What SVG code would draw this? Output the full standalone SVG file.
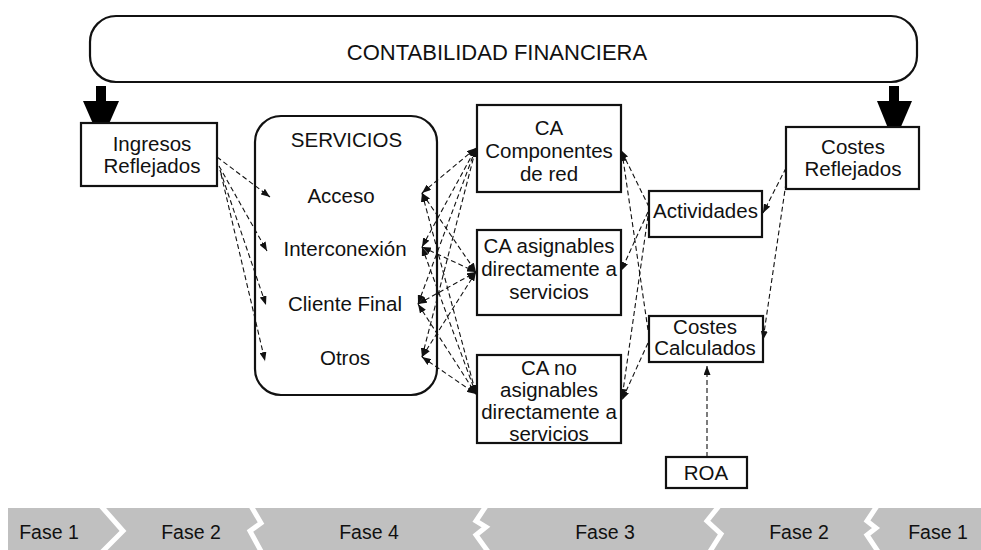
<svg xmlns="http://www.w3.org/2000/svg" width="981" height="550" viewBox="0 0 981 550">
<style>
text{font-family:"Liberation Sans",Arial,Helvetica,sans-serif;fill:#111;text-anchor:middle}
.t{font-size:20.5px}
.box{fill:#fff;stroke:#111;stroke-width:2.2}
.dash{fill:none;stroke:#111;stroke-width:1.1;stroke-dasharray:5,3}
.sep{fill:none;stroke:#fff;stroke-width:5;stroke-linejoin:miter}
.ph{font-size:19.5px}
</style>
<defs>
<marker id="ah" viewBox="0 0 9 7" refX="9" refY="3.5" markerWidth="9" markerHeight="7" markerUnits="userSpaceOnUse" orient="auto-start-reverse">
<path d="M0,0 L9,3.5 L0,7 z" fill="#111"/>
</marker>
</defs>

<g id="contabilidad">
<rect class="box" x="90" y="16" width="827" height="66" rx="26"/>
<text x="497" y="60" style="font-size:22px">CONTABILIDAD FINANCIERA</text>
</g>

<g id="big-arrows" fill="#000">
<rect x="96" y="86" width="10" height="16"/>
<polygon points="83,101 119,101 101,142"/>
<rect x="889" y="86" width="10" height="16"/>
<polygon points="877,101 912,101 894,143"/>
</g>

<g id="ingresos">
<rect class="box" x="81" y="123" width="136" height="63"/>
<text class="t" x="152" y="151">Ingresos</text>
<text class="t" x="152" y="173">Reflejados</text>
</g>

<g id="servicios">
<rect class="box" x="255" y="116" width="182" height="279" rx="26"/>
<text class="t" x="346.500" y="147">SERVICIOS</text>
<text class="t" x="341" y="203">Acceso</text>
<text class="t" x="345" y="256">Interconexión</text>
<text class="t" x="345" y="311">Cliente Final</text>
<text class="t" x="345" y="365">Otros</text>
</g>

<g id="ca-componentes">
<rect class="box" x="477" y="105" width="144" height="87"/>
<text class="t" x="549" y="135">CA</text>
<text class="t" x="549" y="158">Componentes</text>
<text class="t" x="549" y="181">de red</text>
</g>

<g id="ca-asignables">
<rect class="box" x="477" y="230" width="144" height="85"/>
<text class="t" x="549" y="253">CA asignables</text>
<text class="t" x="549" y="276">directamente a</text>
<text class="t" x="549" y="299">servicios</text>
</g>

<g id="ca-no-asignables">
<rect class="box" x="477" y="355" width="144" height="88"/>
<text class="t" x="549" y="375">CA no</text>
<text class="t" x="549" y="397">asignables</text>
<text class="t" x="549" y="419">directamente a</text>
<text class="t" x="549" y="441">servicios</text>
</g>

<g id="actividades">
<rect class="box" x="649" y="191" width="113" height="46"/>
<text class="t" x="705.500" y="218">Actividades</text>
</g>

<g id="costes-reflejados">
<rect class="box" x="786" y="127" width="133" height="62"/>
<text class="t" x="853" y="154">Costes</text>
<text class="t" x="853" y="176">Reflejados</text>
</g>

<g id="costes-calculados">
<rect class="box" x="649" y="316" width="114" height="46"/>
<text class="t" x="705" y="334">Costes</text>
<text class="t" x="705" y="355">Calculados</text>
</g>

<g id="roa">
<rect class="box" x="666" y="457" width="81" height="31"/>
<text class="t" x="706" y="480">ROA</text>
</g>

<g id="connectors">
<!-- Ingresos -> Servicios -->
<line class="dash" x1="217" y1="157" x2="270" y2="197" marker-end="url(#ah)"/>
<line class="dash" x1="219" y1="166" x2="267" y2="251" marker-end="url(#ah)"/>
<line class="dash" x1="220" y1="170" x2="266" y2="305" marker-end="url(#ah)"/>
<line class="dash" x1="221" y1="174" x2="265" y2="361" marker-end="url(#ah)"/>
<!-- Servicios <-> CA -->
<line class="dash" x1="422" y1="193" x2="476" y2="148" marker-start="url(#ah)" marker-end="url(#ah)"/>
<line class="dash" x1="422" y1="193" x2="476" y2="272" marker-start="url(#ah)" marker-end="url(#ah)"/>
<line class="dash" x1="422" y1="193" x2="476" y2="394" marker-start="url(#ah)" marker-end="url(#ah)"/>
<line class="dash" x1="422" y1="247" x2="476" y2="148" marker-start="url(#ah)" marker-end="url(#ah)"/>
<line class="dash" x1="422" y1="247" x2="476" y2="272" marker-start="url(#ah)" marker-end="url(#ah)"/>
<line class="dash" x1="422" y1="247" x2="476" y2="394" marker-start="url(#ah)" marker-end="url(#ah)"/>
<line class="dash" x1="418" y1="304" x2="476" y2="148" marker-start="url(#ah)" marker-end="url(#ah)"/>
<line class="dash" x1="418" y1="304" x2="476" y2="272" marker-start="url(#ah)" marker-end="url(#ah)"/>
<line class="dash" x1="418" y1="304" x2="476" y2="394" marker-start="url(#ah)" marker-end="url(#ah)"/>
<line class="dash" x1="422" y1="357" x2="476" y2="148" marker-start="url(#ah)" marker-end="url(#ah)"/>
<line class="dash" x1="422" y1="357" x2="476" y2="272" marker-start="url(#ah)" marker-end="url(#ah)"/>
<line class="dash" x1="422" y1="357" x2="476" y2="394" marker-start="url(#ah)" marker-end="url(#ah)"/>
<!-- Actividades / Costes Calculados -> CA -->
<line class="dash" x1="649" y1="207" x2="621" y2="150" marker-end="url(#ah)"/>
<line class="dash" x1="648" y1="212" x2="621" y2="271" marker-end="url(#ah)"/>
<line class="dash" x1="648" y1="216" x2="622" y2="398" marker-end="url(#ah)"/>
<line class="dash" x1="648" y1="330" x2="622" y2="152" marker-end="url(#ah)"/>
<line class="dash" x1="648" y1="343" x2="622" y2="400" marker-end="url(#ah)"/>
<!-- Costes Reflejados -> Actividades / Costes Calculados -->
<line class="dash" x1="786" y1="168" x2="763" y2="213" marker-end="url(#ah)"/>
<line class="dash" x1="786" y1="183" x2="763" y2="340" marker-end="url(#ah)"/>
<!-- ROA -> Costes Calculados -->
<line class="dash" x1="707" y1="457" x2="707" y2="366" marker-end="url(#ah)"/>
</g>

<g id="fases">
<rect x="8" y="508" width="973" height="42" fill="#c0c0c0"/>
<polyline class="sep" points="101,506 123,531 101,553"/>
<polyline class="sep" points="251,506 261,523 250,531 262,553"/>
<polyline class="sep" points="486,506 476,521 486,527 476,535 489,553"/>
<polyline class="sep" points="719,506 707,521 721,534 709,553"/>
<polyline class="sep" points="877,506 867,521 876,528 867,535 879,553"/>
<text class="ph" x="49" y="539">Fase 1</text>
<text class="ph" x="191" y="539">Fase 2</text>
<text class="ph" x="369" y="539">Fase 4</text>
<text class="ph" x="605" y="539">Fase 3</text>
<text class="ph" x="799" y="539">Fase 2</text>
<text class="ph" x="938" y="539">Fase 1</text>
</g>
</svg>
